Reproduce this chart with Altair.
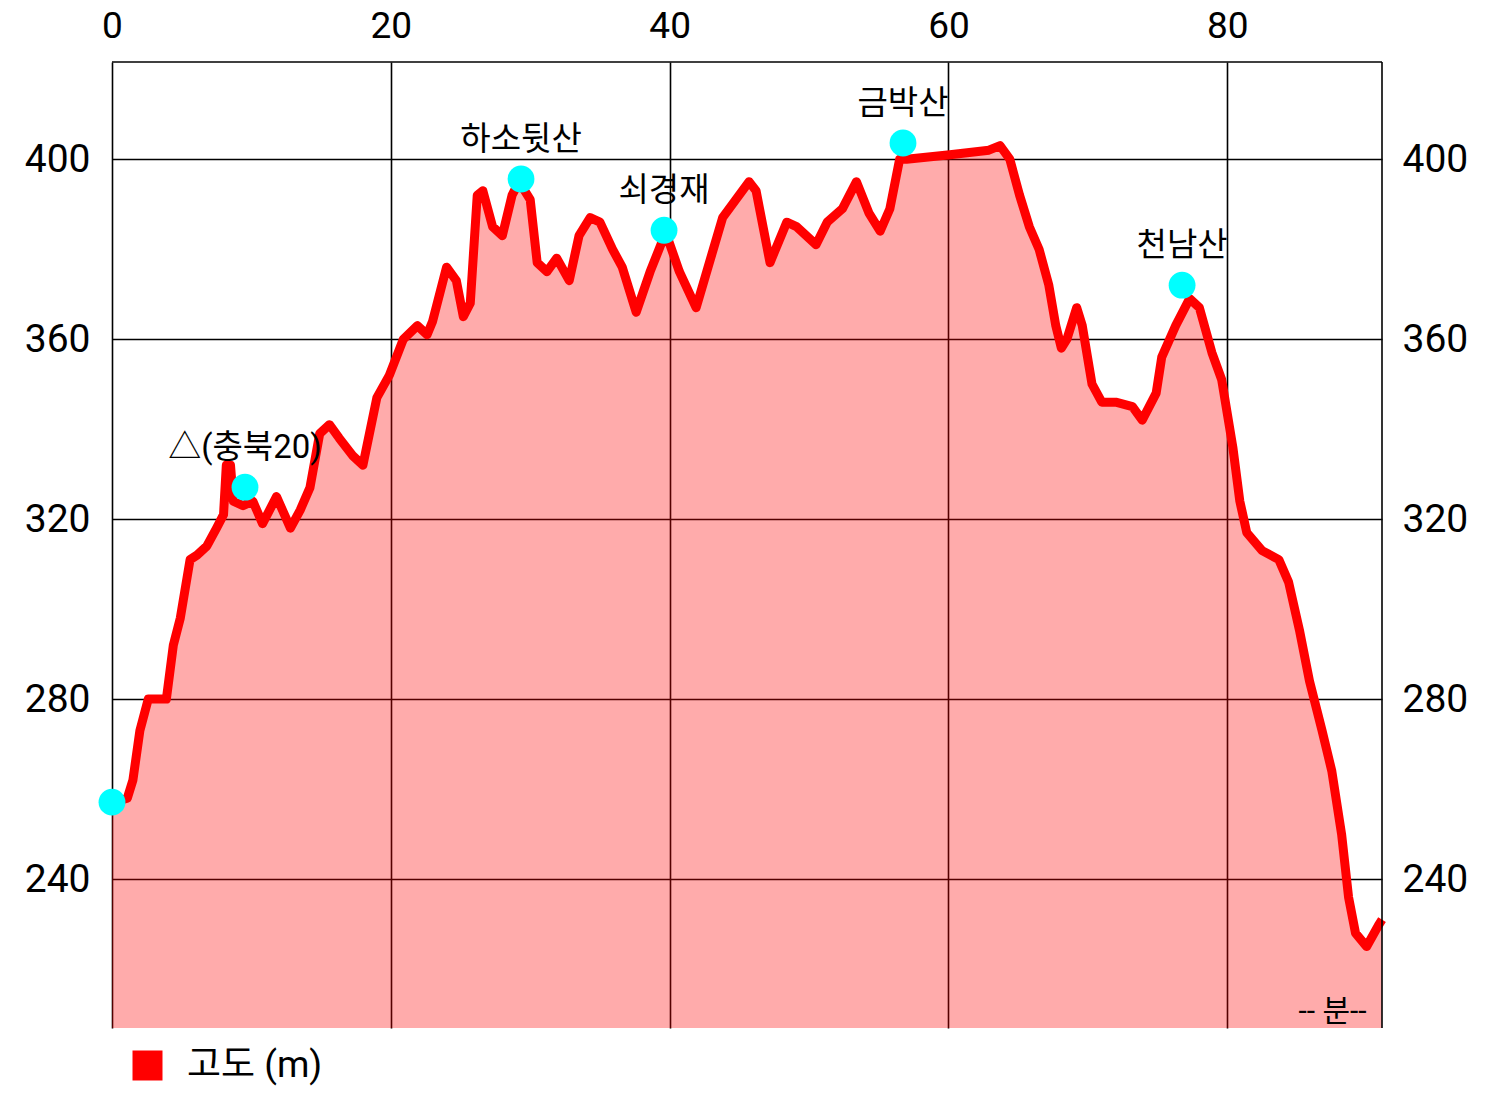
import altair as alt
import pandas as pd

# elevation profile (minutes, metres)
MINUTES = [0, 1.1, 1.5, 2.0, 2.6, 3.4, 3.9, 4.4, 4.9, 5.6,
           6.1, 6.8, 7.5, 8.0, 8.2, 8.5, 8.7, 9.4, 10.1, 10.8,
           11.8, 12.8, 13.5, 14.2, 14.9, 15.6, 16.3, 17.3, 18.0, 19.0,
           19.9, 20.9, 21.9, 22.6, 23.0, 24.0, 24.7, 25.2, 25.7, 26.2,
           26.6, 27.3, 28.0, 28.7, 29.2, 30.0, 30.5, 31.2, 31.9, 32.8,
           33.5, 34.3, 35.0, 35.9, 36.6, 37.6, 38.6, 39.5, 39.8, 40.7,
           41.9, 43.8, 45.7, 46.2, 47.2, 48.4, 49.1, 50.5, 51.3, 52.4,
           53.4, 54.3, 55.1, 55.8, 56.5, 57.0, 60.1, 62.9, 63.7, 64.4,
           65.1, 65.8, 66.5, 67.2, 67.7, 68.1, 68.5, 69.2, 69.6, 70.3,
           71.0, 72.0, 73.2, 73.9, 74.9, 75.3, 76.3, 77.3, 78.0, 78.9,
           79.6, 80.4, 80.9, 81.4, 82.5, 83.7, 84.4, 85.2, 85.9, 86.8,
           87.5, 88.2, 88.7, 89.2, 90.0, 90.9, 91.1]
ELEV = [257, 258, 262, 273, 280, 280, 280, 292, 298, 311,
        312, 314, 318, 321, 332, 332, 324, 323, 324, 319,
        325, 318, 322, 327, 339, 341, 338, 334, 332, 347,
        352, 360, 363, 361, 364, 376, 373, 365, 368, 392,
        393, 385, 383, 392, 395, 391, 377, 375, 378, 373,
        383, 387, 386, 380, 376, 366, 375, 382, 383, 375,
        367, 387, 395, 393, 377, 386, 385, 381, 386, 389,
        395, 388, 384, 389, 400, 400, 401, 402, 403, 400,
        392, 385, 380, 372, 363, 358, 360, 367, 363, 350,
        346, 346, 345, 342, 348, 356, 363, 369, 367, 357,
        351, 336, 324, 317, 313, 311, 306, 295, 284, 273,
        264, 250, 236, 228, 225, 230, 231]
SERIES = "고도 (m)"

# waypoints
WP_MIN = [0, 9.54, 29.34, 39.6, 56.74, 76.76]
WP_ELEV = [257.1, 327.1, 395.6, 384.2, 403.6, 372.0]
WP_NAME = ["", "△(충북20)", "하소뒷산", "쇠경재", "금박산", "천남산"]

X_TICKS = [0, 20, 40, 60, 80]
Y_TICKS = [240, 280, 320, 360, 400]
X_DOMAIN = [0, 91.1]
Y_DOMAIN = [206.9, 421.6]
UNIT_LABEL = "-- 분--"

FONT = "Roboto, Noto Sans CJK KR"

prof = pd.DataFrame({"t": MINUTES, "e": ELEV, "series": SERIES})
wp = pd.DataFrame({"t": WP_MIN, "e": WP_ELEV, "name": WP_NAME})

xs = alt.Scale(domain=X_DOMAIN, nice=False, zero=False)
ys = alt.Scale(domain=Y_DOMAIN, nice=False, zero=False)

x_top = alt.Axis(orient="top", values=X_TICKS, grid=True, gridColor="black",
                 gridWidth=1.6, gridOpacity=1, ticks=False, tickSize=0,
                 domain=False, labelFontSize=37, labelPadding=17,
                 labelFont=FONT, labelColor="black", labelFlush=False,
                 title=None, format="d")
y_left = alt.Axis(orient="left", values=Y_TICKS, grid=True, gridColor="black",
                  gridWidth=1.6, gridOpacity=1, ticks=False, tickSize=0,
                  domain=False, labelFontSize=39, labelPadding=22,
                  labelFont=FONT, labelColor="black", labelFlush=False,
                  title=None, format="d")
y_right = alt.Axis(orient="right", values=Y_TICKS, grid=False, ticks=False,
                   tickSize=0, domain=False, labelFontSize=39, labelPadding=20,
                   labelFont=FONT, labelColor="black", labelFlush=False,
                   title=None, format="d")

X = alt.X("t:Q", scale=xs, axis=x_top)

area = alt.Chart(prof).mark_area(color="red", opacity=0.33, clip=True).encode(
    x=X,
    y=alt.Y("e:Q", scale=ys, axis=y_left),
)

line = alt.Chart(prof).mark_line(strokeWidth=9, strokeJoin="round").encode(
    x=X,
    y=alt.Y("e:Q", scale=ys, axis=y_right),
    color=alt.Color("series:N",
                    scale=alt.Scale(domain=[SERIES], range=["red"]),
                    legend=alt.Legend(orient="none", legendX=17, legendY=985,
                                      title=None, symbolType="square",
                                      symbolSize=900, symbolFillColor="red",
                                      symbolStrokeColor="red",
                                      symbolStrokeWidth=0, symbolOpacity=1,
                                      labelFontSize=37, labelFont=FONT,
                                      labelColor="black", labelOffset=21,
                                      padding=0)),
)

frame_v = alt.Chart(pd.DataFrame({"t": [X_DOMAIN[1]]})).mark_rule(
    color="black", strokeWidth=1.6).encode(x=X)
frame_h = alt.Chart(pd.DataFrame({"e": [Y_DOMAIN[1]]})).mark_rule(
    color="black", strokeWidth=1.6).encode(y=alt.Y("e:Q", scale=ys, axis=None))

dots = alt.Chart(wp).mark_circle(color="#00FFFF", size=720, opacity=1).encode(
    x=X,
    y=alt.Y("e:Q", scale=ys, axis=None),
)
labels = alt.Chart(wp).mark_text(fontSize=33, dy=-39, font=FONT, color="black",
                                 baseline="middle", align="center").encode(
    x=X,
    y=alt.Y("e:Q", scale=ys, axis=None),
    text="name:N",
)

unit = alt.Chart(pd.DataFrame({"t": [90.0], "e": [210.4], "s": [UNIT_LABEL]})).mark_text(
    fontSize=30, font=FONT, color="black", align="right", baseline="middle").encode(
    x=X,
    y=alt.Y("e:Q", scale=ys, axis=None),
    text="s:N",
)

chart = alt.layer(area, line, frame_v, frame_h, dots, labels, unit).resolve_scale(
    y="independent"
).properties(
    width=1270, height=966,
    autosize=alt.AutoSizeParams(type="none"),
    padding={"left": 104, "top": 54, "right": 100, "bottom": 60},
    background="white",
).configure_view(stroke=None)

chart.save("out.html", embed_options={"renderer": "svg", "actions": False})
